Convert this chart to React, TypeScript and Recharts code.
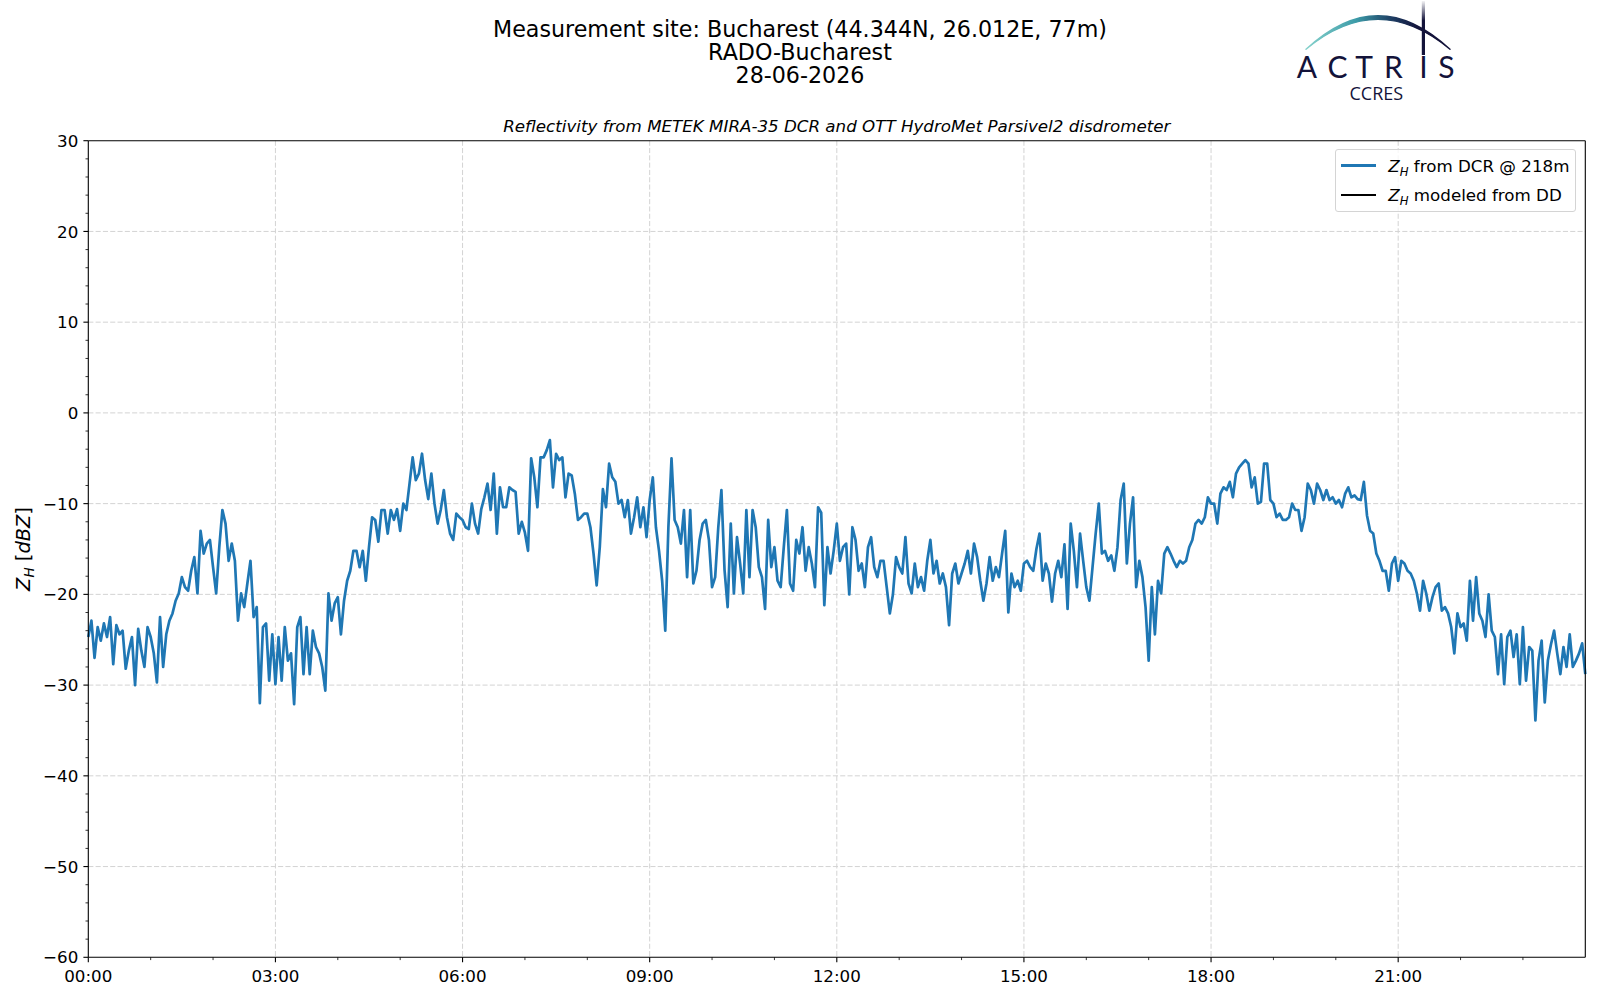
import {
  LineChart,
  Line,
  XAxis,
  YAxis,
  CartesianGrid,
  Legend,
} from 'recharts';

// Z_H from the DCR @ 218m, one value every 3 minutes, in blocks of 3 hours
const ZH_00_03 = [
  -24.7, -22.9, -27, -23.6, -25.1, -23.2, -24.7, -22.5, -27.7, -23.4,
  -24.4, -24, -28.2, -26.2, -24.7, -30, -23.8, -26.2, -28, -23.6,
  -24.7, -26.5, -29.7, -22.5, -28, -24.4, -22.9, -22.1, -20.7, -19.9,
  -18.1, -19.2, -19.6, -17.4, -15.9, -19.9, -13, -15.5, -14.4, -14,
  -17, -19.9, -14.8, -10.7, -12.2, -16.3, -14.4, -16.3, -22.9, -19.9,
  -21.4, -18.8, -16.3, -22.5, -21.4, -32, -23.6, -23.2, -29.5, -24.4,
];
const ZH_03_06 = [
  -29.9, -24.7, -29.5, -23.6, -27.3, -26.5, -32.1, -23.6, -22.5, -28.8,
  -23.6, -28.8, -24, -25.8, -26.5, -28, -30.6, -19.9, -22.9, -21,
  -20.3, -24.4, -20.7, -18.5, -17.4, -15.2, -15.2, -17, -15.2, -18.5,
  -14.8, -11.5, -11.8, -14.2, -10.7, -10.7, -13.3, -10.7, -11.8, -10.6,
  -13, -10, -10.7, -7.8, -4.9, -7.4, -6.7, -4.5, -7.4, -9.5,
  -6.7, -10, -12.2, -10.7, -8.5, -11.5, -13.3, -14, -11.1, -11.5,
];
const ZH_06_09 = [
  -11.8, -12.6, -12.8, -10, -12.2, -13.3, -10.6, -9.3, -7.8, -10.7,
  -6.7, -13.3, -8.2, -10.4, -10.4, -8.2, -8.5, -8.7, -13.3, -12,
  -13.2, -15.2, -5.0, -7.1, -10.4, -4.9, -4.9, -4.1, -3.0, -8.2,
  -4.5, -5.2, -4.9, -9.3, -6.7, -6.9, -8.9, -11.8, -11.5, -11.1,
  -11.1, -12.6, -15.5, -19, -14.8, -8.4, -10.4, -5.6, -7.1, -7.6,
  -10, -9.6, -11.5, -9.6, -13.3, -11.5, -9.3, -12.6, -10.4, -13.7,
];
const ZH_09_12 = [
  -9.6, -7.1, -12.6, -15.2, -18.5, -24, -12.6, -5.0, -11.8, -12.6,
  -14.4, -10.7, -18.1, -10.7, -18.8, -17.4, -14, -12.2, -11.8, -14,
  -19.2, -18.1, -12.6, -8.5, -17.3, -21.4, -12.2, -19.9, -13.7, -16.6,
  -19.9, -10.7, -18.1, -10.7, -12.6, -17, -18.1, -21.6, -11.8, -17,
  -14.8, -18.5, -19.2, -14.8, -10.7, -18.8, -19.6, -14, -15.5, -12.6,
  -17.4, -14.8, -16.6, -19.2, -10.4, -11, -21.2, -14.8, -17.7, -15.2,
];
const ZH_12_15 = [
  -12.2, -16.3, -14.8, -14.4, -20, -12.6, -14, -17.4, -16.6, -19.2,
  -14.8, -13.7, -17, -18.1, -16.3, -16.3, -19.2, -22.1, -20, -15.9,
  -17, -17.7, -13.7, -18.8, -19.9, -16.6, -19.2, -18.1, -19.6, -16.3,
  -14, -17.7, -16.3, -18.8, -17.7, -19.2, -23.4, -17.7, -16.6, -18.8,
  -17.7, -16.6, -15.2, -17.7, -14.4, -15.9, -18.5, -20.7, -18.8, -15.9,
  -18.5, -17, -18.1, -15.5, -13, -22, -17.7, -19.2, -18.5, -19.6,
];
const ZH_15_18 = [
  -16.6, -16.3, -17, -17.4, -15, -13.3, -18.5, -16.6, -17.7, -20.8,
  -17.7, -16.3, -18.1, -14.5, -21.6, -12.2, -15.2, -19.2, -13.3, -16.3,
  -19.2, -20.7, -17, -13.3, -10, -15.5, -15.2, -16.3, -15.7, -17.4,
  -14.8, -9.6, -7.8, -16.6, -12.2, -9.3, -19.2, -16.3, -18.1, -21.4,
  -27.3, -19.2, -24.4, -18.5, -19.9, -15.5, -14.8, -15.5, -16.3, -17,
  -16.3, -16.6, -16.3, -14.8, -14, -12.2, -11.8, -12.2, -11.5, -9.3,
];
const ZH_18_21 = [
  -10, -10, -12.2, -8.9, -8.2, -8.5, -7.6, -9.3, -6.7, -6.0,
  -5.6, -5.2, -5.6, -8.2, -7.1, -10, -9.8, -5.6, -5.6, -9.6,
  -10, -11.5, -11.1, -11.8, -11.8, -11.5, -10, -10.7, -10.7, -13,
  -11.5, -7.8, -8.5, -10, -7.8, -8.5, -9.6, -8.5, -9.6, -9.3,
  -10, -9.6, -10.4, -8.9, -8.2, -9.3, -9.1, -9.5, -9.6, -7.6,
  -11.3, -13, -13.3, -15.5, -16.3, -17.4, -17.4, -19.6, -16.6, -15.9,
];
const ZH_21_24 = [
  -18.5, -16.3, -16.6, -17.4, -17.7, -18.5, -19.9, -21.8, -18.5, -19.9,
  -21.8, -20.3, -19.2, -18.8, -21.8, -21.4, -22.1, -23.6, -26.5, -22.1,
  -23.6, -23.2, -25.1, -18.5, -22.9, -18.1, -22.1, -22.9, -24.7, -20,
  -24, -24.7, -28.8, -24.4, -29.9, -24.7, -24, -26.9, -24.4, -29.9,
  -23.6, -29.5, -25.8, -26.2, -33.9, -27.3, -25.1, -31.9, -27.3, -25.5,
  -24, -26.5, -28.8, -25.8, -28, -24.4, -28, -27.3, -26.5, -25.4,
  -28.8,
];
const STEP_H = 0.05;

const X_HOUR_TICKS = [0, 1, 2, 3, 4, 5, 6, 7, 8, 9, 10, 11, 12, 13, 14, 15, 16, 17, 18, 19, 20, 21, 22, 23];
const X_MAJOR_HOURS = [0, 3, 6, 9, 12, 15, 18, 21];
const X_MAJOR_LABELS = ['00:00', '03:00', '06:00', '09:00', '12:00', '15:00', '18:00', '21:00'];
const Y_MAJOR = [-60, -50, -40, -30, -20, -10, 0, 10, 20, 30];
const Y_TICKS = Array.from({ length: 46 }, (_, i) => -60 + 2 * i);
const GRID_X = [3, 6, 9, 12, 15, 18, 21];
const GRID_Y = [-50, -40, -30, -20, -10, 0, 10, 20];

const TITLE_LINES = ['Measurement site: Bucharest (44.344N, 26.012E, 77m)', 'RADO-Bucharest', '28-06-2026'];
const SUBTITLE = 'Reflectivity from METEK MIRA-35 DCR and OTT HydroMet Parsivel2 disdrometer';
const LEGEND_TEXT: Record<string, string> = {
  dcr: ' from DCR @ 218m',
  dd: ' modeled from DD',
};

const FONT = '"DejaVu Sans", sans-serif';
const NAVY = '#13133a';
const AXIS_LINE = { stroke: '#000', strokeWidth: 1.1 };

const rows = [...ZH_00_03, ...ZH_03_06, ...ZH_06_09, ...ZH_09_12, ...ZH_12_15, ...ZH_15_18, ...ZH_18_21, ...ZH_21_24].map(
  (v, i) => ({ t: +(i * STEP_H).toFixed(2), dcr: v, dd: null }),
);

const fmtY = (v: number) => (v < 0 ? `\u2212${-v}` : `${v}`);

function XTick({ x, y, payload }: any) {
  const idx = X_MAJOR_HOURS.indexOf(payload.value);
  const major = idx >= 0;
  return (
    <g>
      <line x1={x} x2={x} y1={y} y2={y + (major ? 4.9 : 2.8)} stroke="#000" strokeWidth={major ? 1.1 : 0.8} />
      {major && (
        <text x={x} y={y + 24.3} textAnchor="middle" fontSize={16.7} fontFamily={FONT} fill="#000">
          {X_MAJOR_LABELS[idx]}
        </text>
      )}
    </g>
  );
}

function YTick({ x, y, payload }: any) {
  const major = Y_MAJOR.includes(payload.value);
  return (
    <g>
      <line x1={x} x2={x - (major ? 4.9 : 2.8)} y1={y} y2={y} stroke="#000" strokeWidth={major ? 1.1 : 0.8} />
      {major && (
        <text x={x - 10} y={y + 6.1} textAnchor="end" fontSize={16.7} fontFamily={FONT} fill="#000">
          {fmtY(payload.value)}
        </text>
      )}
    </g>
  );
}

function YLabel({ viewBox }: any) {
  const bx = (viewBox?.x ?? 0) + 30;
  const cy = (viewBox?.y ?? 0) + (viewBox?.height ?? 0) / 2;
  return (
    <text
      x={bx}
      y={cy}
      transform={`rotate(-90 ${bx} ${cy})`}
      textAnchor="middle"
      fontSize={19.4}
      fontFamily={FONT}
      fill="#000"
    >
      <tspan fontStyle="italic">Z</tspan>
      <tspan fontStyle="italic" fontSize={13.6} dy={4}>H</tspan>
      <tspan dy={-4}> [</tspan>
      <tspan fontStyle="italic">dBZ</tspan>
      <tspan>]</tspan>
    </text>
  );
}

function LegendBox({ payload }: any) {
  return (
    <div
      style={{
        boxSizing: 'border-box',
        width: 241,
        height: 62.7,
        border: '1px solid #d4d4d4',
        borderRadius: 3,
        background: 'rgba(255,255,255,0.8)',
        paddingTop: 1,
        fontFamily: FONT,
        fontSize: 16.7,
        color: '#000',
      }}
    >
      {(payload ?? []).map((p: any) => (
        <div key={p.dataKey} style={{ display: 'flex', alignItems: 'center', height: 29.3, paddingLeft: 4.7 }}>
          <span style={{ display: 'inline-block', width: 35.3, height: 2.7, background: p.color, marginRight: 12.3 }} />
          <span style={{ whiteSpace: 'nowrap' }}>
            <i>Z</i>
            <i style={{ fontSize: '0.7em', verticalAlign: '-0.3em', lineHeight: 0 }}>H</i>
            {LEGEND_TEXT[p.dataKey]}
          </span>
        </div>
      ))}
    </div>
  );
}

export default function App() {
  return (
    <div style={{ position: 'relative', width: 1600, height: 1000, background: '#fff' }}>
      <style>{'body{margin:0}'}</style>
      <LineChart width={1600} height={1000} data={rows} margin={{ top: 139.7, right: 13.7, bottom: 0, left: 0 }}>
        <CartesianGrid
          stroke="#d3d3d3"
          strokeWidth={1}
          strokeDasharray="5.1 2.2"
          horizontalValues={GRID_Y}
          verticalValues={GRID_X}
        />
        <XAxis
          dataKey="t"
          type="number"
          domain={[0, 24]}
          ticks={X_HOUR_TICKS}
          interval={0}
          tickSize={0}
          tickMargin={0}
          tickLine={false}
          axisLine={AXIS_LINE}
          tick={XTick}
          height={42.7}
        />
        {/* top and right spines */}
        <XAxis
          xAxisId="top"
          orientation="top"
          dataKey="t"
          type="number"
          domain={[0, 24]}
          height={1}
          tick={false}
          tickLine={false}
          axisLine={AXIS_LINE}
        />
        <YAxis
          type="number"
          domain={[-60, 30]}
          ticks={Y_TICKS}
          interval={0}
          tickSize={0}
          tickMargin={0}
          tickLine={false}
          axisLine={AXIS_LINE}
          tick={YTick}
          width={88.3}
          label={YLabel}
        />
        <YAxis
          yAxisId="right"
          orientation="right"
          type="number"
          domain={[-60, 30]}
          width={1}
          tick={false}
          tickLine={false}
          axisLine={AXIS_LINE}
        />
        <Legend
          layout="vertical"
          align="center"
          verticalAlign="middle"
          content={LegendBox}
          wrapperStyle={{ left: 1335, top: 149, width: 241, height: 62.7 }}
        />
        <Line
          dataKey="dcr"
          name="Z_H from DCR @ 218m"
          type="linear"
          stroke="#1f77b4"
          strokeWidth={2.7}
          strokeLinejoin="round"
          dot={false}
          activeDot={false}
          isAnimationActive={false}
        />
        <Line
          dataKey="dd"
          name="Z_H modeled from DD"
          xAxisId="top"
          yAxisId="right"
          stroke="#000"
          strokeWidth={2.7}
          dot={false}
          activeDot={false}
          isAnimationActive={false}
        />
      </LineChart>

      <svg width={1600} height={140} style={{ position: 'absolute', left: 0, top: 0, pointerEvents: 'none' }}>
        <defs>
          <linearGradient id="arcGrad" x1="1306" y1="0" x2="1450" y2="0" gradientUnits="userSpaceOnUse">
            <stop offset="0" stopColor="#86d2cc" />
            <stop offset="0.35" stopColor="#3c9ba8" />
            <stop offset="0.6" stopColor="#1d3c62" />
            <stop offset="0.78" stopColor={NAVY} />
            <stop offset="1" stopColor={NAVY} />
          </linearGradient>
          <linearGradient id="barGrad" x1="0" y1="1" x2="0" y2="57" gradientUnits="userSpaceOnUse">
            <stop offset="0" stopColor={NAVY} stopOpacity={0.05} />
            <stop offset="0.35" stopColor={NAVY} stopOpacity={1} />
            <stop offset="1" stopColor={NAVY} stopOpacity={1} />
          </linearGradient>
        </defs>

        {TITLE_LINES.map((line, i) => (
          <text key={line} x={800} y={36.6 + i * 23.3} textAnchor="middle" fontSize={22.2} fontFamily={FONT} fill="#000">
            {line}
          </text>
        ))}
        <text x={836.8} y={131.6} textAnchor="middle" fontSize={16.7} fontStyle="italic" fontFamily={FONT} fill="#000">
          {SUBTITLE}
        </text>

        {/* ACTRIS CCRES logo */}
        <path
          d="M1306,49.3 Q1378,-18 1450,49.3 Q1378,-10.5 1306,49.3 Z"
          fill="url(#arcGrad)"
          stroke="url(#arcGrad)"
          strokeWidth={1.4}
          strokeLinejoin="round"
        />
        <rect x={1421.8} y={1} width={3.2} height={54} fill="url(#barGrad)" />
        <text
          x="1307 1337.5 1364 1393.5 1423.4 1446.5"
          y={78.3}
          textAnchor="middle"
          fontSize={30}
          fontFamily="Lato, 'Open Sans', sans-serif"
          fill={NAVY}
        >
          ACTRIS
        </text>
        <text x={1376.3} y={100} textAnchor="middle" fontSize={18} fontFamily="'Open Sans', sans-serif" fill={NAVY}>
          CCRES
        </text>
      </svg>
    </div>
  );
}
